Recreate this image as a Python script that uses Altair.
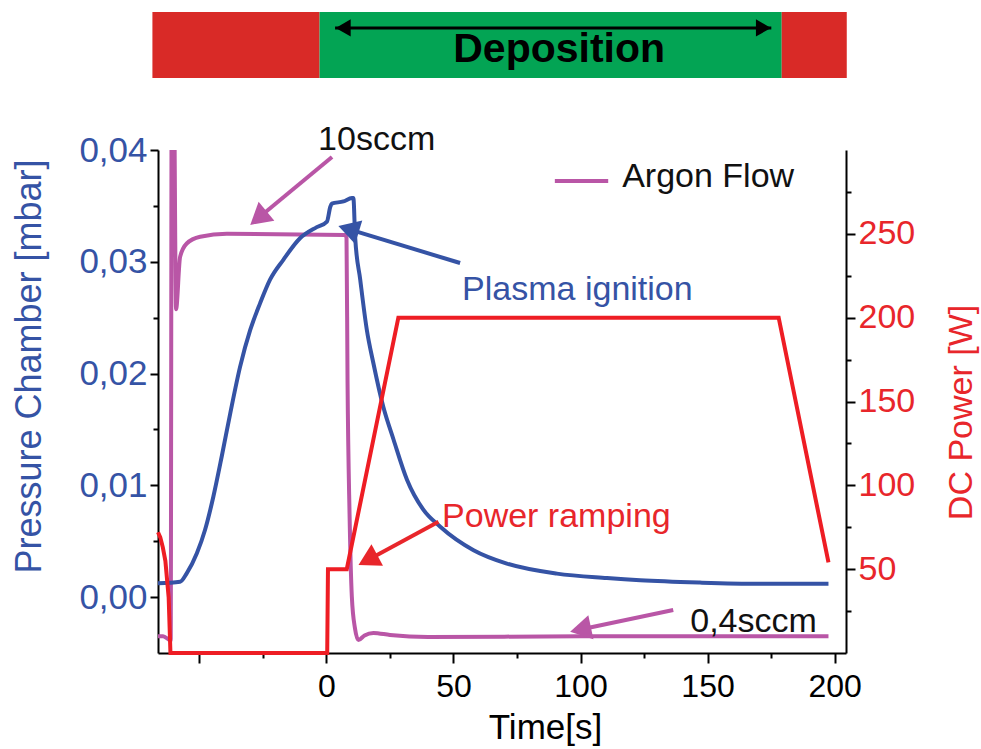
import altair as alt
import pandas as pd

# ---------------- data ----------------
# Pressure chamber (left axis, mbar)
pressure_time = [-66.3, -57.6, -55.0, -51.0, -47.8, -44.5, -41.2, -37.9, -34.0, -30.0,
                 -26.1, -22.2, -16.9, -10.4, -3.8, 0.2, 1.5, 2.1, 6.7, 10.0, 10.6,
                 11.3, 13.3, 15.9, 18.5, 22.4, 26.4, 31.7, 38.2, 44.8, 57.9, 71.0,
                 90.7, 110.4, 123.5, 147, 170, 197.6]
pressure_mbar = [0.00124, 0.00138, 0.00213, 0.00392, 0.0060, 0.0090, 0.0126, 0.0164,
                 0.0206, 0.0239, 0.0263, 0.0284, 0.0302, 0.0321, 0.0331, 0.0336, 0.0349,
                 0.0352, 0.0354, 0.0357, 0.0357, 0.0322, 0.0284, 0.0239, 0.0209, 0.0170,
                 0.0141, 0.0105, 0.0078, 0.0063, 0.0042, 0.0030, 0.0021, 0.0017, 0.0015,
                 0.0013, 0.0012, 0.0012]

# Argon flow (hidden scale, sccm)
argon_time = [-66.3, -64.3, -61.3, -60.9, -60.1, -59.2, -57.6, -55.0, -49.7, -39.2,
              7.4, 7.9, 8.3, 9.1, 10.0, 11.2, 12.6, 15.0, 18.5, 25, 40, 100, 197.6]
argon_sccm = [0.4, 0.4, 0.3, 14, 14, 8.2, 9.45, 9.77, 9.93, 10.0,
              9.97, 9.9, 6.5, 3.3, 1.34, 0.6, 0.31, 0.42, 0.48, 0.43, 0.38, 0.40, 0.40]

# DC power (right axis, W)
power_time = [-66.3, -65.4, -64.4, -63.4, -62.1, -61.4, 0.3, 0.6, 8.0, 28.3, 178.0, 197.6]
power_w = [72, 69, 63, 55, 33, 0, 0, 50, 50, 200, 200, 54]

x_ticks = [-50, -25, 0, 25, 50, 75, 100, 125, 150, 175, 200]
left_ticks = [0, 0.005, 0.01, 0.015, 0.02, 0.025, 0.03, 0.035, 0.04]
right_ticks = [25, 50, 75, 100, 125, 150, 175, 200, 225, 250, 275]

# annotation texts (anchored in time / power units)
note_text = ["10sccm", "Plasma ignition", "Power ramping", "0,4sccm", "Argon Flow"]
note_t = [-3.3, 53.4, 45.5, 143.2, 116.4]
note_w = [306.0, 216.5, 81.1, 18.5, 283.9]
note_color = ["#111111", "#3553a5", "#e8262b", "#111111", "#111111"]

# arrows (shaft start -> head)
arrow_t1 = [2.2, 52.6, 44.1, 136.5]
arrow_w1 = [295.8, 232.6, 78.3, 25.6]
arrow_t2 = [-26.8, 8.7, 16.3, 100.0]
arrow_w2 = [259.4, 252.8, 55.5, 14.0]
arrow_angle = [230, 287, 242, 258]
arrow_color = ["#b956a6", "#3553a5", "#e8262b", "#b956a6"]

# legend sample line
legend_t = [89.9, 110.9]
legend_w = 281.5

# top phase bar
phase_start = [-68.5, -2.7, 179.2]
phase_end = [-2.7, 179.2, 204.8]
phase_color = ["#d92a27", "#03a454", "#d92a27"]
phase_w = [342.9, 382.3]
phase_label = "Deposition"
phase_label_pos = [91.6, 359.6]
dbl_arrow_t = [3.4, 175.1]
dbl_arrow_w = 372.8
dbl_head_t = [6.6, 172.0]
dbl_head_angle = [270, 90]

BLUE = "#3553a5"
RED = "#ee1d24"
MAG = "#b956a6"
FONT = "Liberation Sans"

# ---------------- scales & axes ----------------
x_scale = alt.Scale(domain=[-66.3, 204.5], nice=False, zero=False)
x_axis = alt.Axis(
    values=x_ticks,
    title="Time[s]",
    labelExpr="datum.value >= 0 && datum.value % 50 == 0 ? datum.label : ''",
    tickSize={"condition": {"test": "datum.value % 50 != 0", "value": 5}, "value": 10},
    labelFontSize=32, labelColor="black", labelPadding=8, labelFont=FONT,
    labelFlush=False, labelOverlap=False,
    titleFontSize=35, titleFont=FONT, titleFontWeight="normal", titleColor="black",
    titleX=387, titleY=85, titleAlign="center", titleBaseline="alphabetic",
)


def X(field):
    return alt.X(field, type="quantitative", scale=x_scale, axis=x_axis)


minor_left = "abs(datum.value*100 - round(datum.value*100)) > 0.01"
left_axis = alt.Axis(
    orient="left", values=left_ticks,
    labelExpr=minor_left + " ? '' : replace(format(datum.value, '.2f'), '.', ',')",
    tickSize={"condition": {"test": minor_left, "value": 5}, "value": 8},
    labelColor=BLUE, labelFontSize=35, labelFont=FONT, labelPadding=3,
    labelFlush=False, labelOverlap=False,
    title="Pressure Chamber [mbar]", titleColor=BLUE, titleFontSize=36, titleFont=FONT,
    titleFontWeight="normal", titleAngle=270, titleX=-129, titleY=216,
    titleAlign="center", titleBaseline="middle",
)

right_axis = alt.Axis(
    orient="right", values=right_ticks,
    labelExpr="datum.value % 50 == 0 ? datum.label : ''",
    tickSize={"condition": {"test": "datum.value % 50 != 0", "value": 5}, "value": 9},
    labelColor="#e8262b", labelFontSize=34, labelFont=FONT, labelPadding=3,
    labelFlush=False, labelOverlap=False,
    title="DC Power [W]", titleColor="#e8262b", titleFontSize=34, titleFont=FONT,
    titleFontWeight="normal", titleAngle=270, titleX=115, titleY=262,
    titleAlign="center", titleBaseline="middle",
)
w_scale = alt.Scale(domain=[0, 300], nice=False, zero=False)


def YW(field):
    return alt.Y(field, type="quantitative", scale=w_scale, axis=right_axis)


# ---------------- layers ----------------
argon_df = pd.DataFrame({"t": argon_time, "a": argon_sccm})
argon = alt.Chart(argon_df).mark_line(
    color=MAG, strokeWidth=4, clip=True, interpolate="monotone"
).encode(
    x=X("t"),
    y=alt.Y("a:Q", scale=alt.Scale(domain=[0, 12], nice=False, zero=False), axis=None),
    order="index:Q",
).transform_window(index="row_number()")

press_df = pd.DataFrame({"t": pressure_time, "p": pressure_mbar})
pressure = alt.Chart(press_df).mark_line(
    color=BLUE, strokeWidth=4, interpolate="monotone"
).encode(
    x=X("t"),
    y=alt.Y("p:Q", scale=alt.Scale(domain=[-0.005, 0.04], nice=False, zero=False), axis=left_axis),
    order="index:Q",
).transform_window(index="row_number()")

power_df = pd.DataFrame({"t": power_time, "w": power_w})
power = alt.Chart(power_df).mark_line(color=RED, strokeWidth=4).encode(
    x=X("t"), y=YW("w"), order="index:Q",
).transform_window(index="row_number()")

notes_df = pd.DataFrame({"t": note_t, "w": note_w, "label": note_text, "color": note_color})
notes = alt.Chart(notes_df).mark_text(
    align="left", baseline="middle", fontSize=34, font=FONT
).encode(x=X("t"), y=YW("w"), text="label:N", color=alt.Color("color:N", scale=None))

arrows_df = pd.DataFrame({"t1": arrow_t1, "w1": arrow_w1, "t2": arrow_t2, "w2": arrow_w2,
                          "angle": arrow_angle, "color": arrow_color})
shafts = alt.Chart(arrows_df).mark_rule(strokeWidth=4).encode(
    x=X("t1"), y=YW("w1"), x2="t2:Q", y2="w2:Q", color=alt.Color("color:N", scale=None)
)
heads = alt.Chart(arrows_df).mark_point(
    shape="triangle-up", size=600, filled=True, opacity=1
).encode(
    x=X("t2"), y=YW("w2"), angle=alt.Angle("angle:Q", scale=None),
    color=alt.Color("color:N", scale=None)
)

legend_df = pd.DataFrame({"t1": [legend_t[0]], "t2": [legend_t[1]], "w": [legend_w]})
legend_line = alt.Chart(legend_df).mark_rule(color=MAG, strokeWidth=4).encode(
    x=X("t1"), x2="t2:Q", y=YW("w")
)

phase_df = pd.DataFrame({"t1": phase_start, "t2": phase_end, "color": phase_color,
                         "w1": [phase_w[0]] * 3, "w2": [phase_w[1]] * 3})
phase = alt.Chart(phase_df).mark_rect().encode(
    x=X("t1"), x2="t2:Q", y=YW("w1"), y2="w2:Q", color=alt.Color("color:N", scale=None)
)
phase_text_df = pd.DataFrame({"t": [phase_label_pos[0]], "w": [phase_label_pos[1]],
                              "label": [phase_label]})
phase_text = alt.Chart(phase_text_df).mark_text(
    align="center", baseline="middle", fontSize=41, fontWeight="bold", font=FONT, color="black"
).encode(x=X("t"), y=YW("w"), text="label:N")

dbl_df = pd.DataFrame({"t1": [dbl_arrow_t[0]], "t2": [dbl_arrow_t[1]], "w": [dbl_arrow_w]})
dbl_shaft = alt.Chart(dbl_df).mark_rule(color="black", strokeWidth=3).encode(
    x=X("t1"), x2="t2:Q", y=YW("w")
)
dbl_heads_df = pd.DataFrame({"t": dbl_head_t, "w": [dbl_arrow_w] * 2, "angle": dbl_head_angle})
dbl_heads = alt.Chart(dbl_heads_df).mark_point(
    shape="triangle-up", size=300, filled=True, opacity=1, color="black"
).encode(x=X("t"), y=YW("w"), angle=alt.Angle("angle:Q", scale=None))

right_group = alt.layer(power, phase, phase_text, dbl_shaft, dbl_heads,
                        shafts, heads, legend_line, notes)

chart = alt.layer(argon, pressure, right_group).resolve_scale(y="independent").properties(
    width=688, height=503,
    autosize=alt.AutoSizeParams(type="none"),
    padding={"left": 158, "top": 150, "right": 135, "bottom": 96},
    background="white",
).configure_view(stroke=None).configure_axis(
    grid=False, domainColor="black", domainWidth=2, tickColor="black", tickWidth=2,
)

chart.save("out.html", embed_options={"renderer": "svg", "actions": False})
